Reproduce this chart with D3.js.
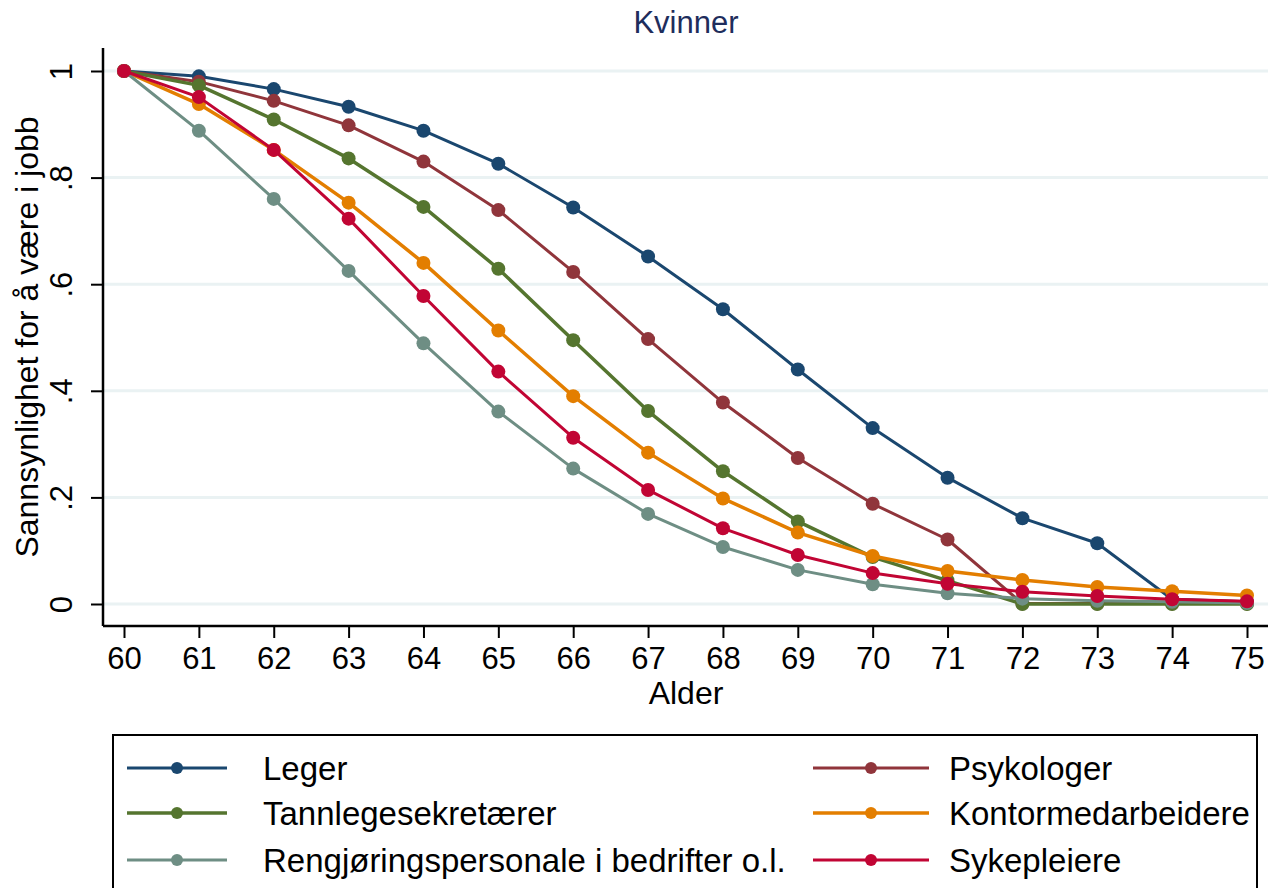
<!DOCTYPE html>
<html>
<head>
<meta charset="utf-8">
<script src="https://cdn.jsdelivr.net/npm/d3@7"></script>
<style>
  body { margin: 0; background: #fff; }
  svg { display: block; font-family: "Liberation Sans", Arial, sans-serif; }
</style>
</head>
<body>
<div id="chart"></div>
<script>
// ages on the x axis
const ages = [60, 61, 62, 63, 64, 65, 66, 67, 68, 69, 70, 71, 72, 73, 74, 75];
const yTicks = [0, 0.2, 0.4, 0.6, 0.8, 1];

// probability of being in work, per occupation
const leger = [1, 0.990, 0.966, 0.933, 0.888, 0.826, 0.744, 0.652, 0.553, 0.440, 0.330, 0.237, 0.161, 0.114, 0.009, 0.004];
const psykologer = [1, 0.980, 0.944, 0.898, 0.830, 0.739, 0.623, 0.497, 0.378, 0.274, 0.188, 0.121, 0.001, 0.001, 0.001, 0.001];
const tannlegesekretaerer = [1, 0.973, 0.909, 0.836, 0.745, 0.629, 0.495, 0.362, 0.249, 0.155, 0.088, 0.044, 0, 0, 0, 0];
const kontormedarbeidere = [1, 0.938, 0.852, 0.753, 0.640, 0.513, 0.390, 0.284, 0.198, 0.134, 0.090, 0.062, 0.045, 0.032, 0.024, 0.016];
const rengjoring = [1, 0.888, 0.760, 0.625, 0.489, 0.361, 0.254, 0.169, 0.107, 0.064, 0.037, 0.020, 0.010, 0.006, 0.004, 0.002];
const sykepleiere = [1, 0.951, 0.852, 0.723, 0.578, 0.436, 0.312, 0.214, 0.142, 0.092, 0.058, 0.038, 0.023, 0.015, 0.009, 0.005];

// legend order (row-wise, like Stata) is also draw order
const series = [
  { name: 'Leger', values: leger, color: '#1a476f', lw: 3 },
  { name: 'Psykologer', values: psykologer, color: '#90353b', lw: 3 },
  { name: 'Tannlegesekretærer', values: tannlegesekretaerer, color: '#55752f', lw: 3.5 },
  { name: 'Kontormedarbeidere', values: kontormedarbeidere, color: '#e37e00', lw: 3.5 },
  { name: 'Rengjøringspersonale i bedrifter o.l.', values: rengjoring, color: '#6e8e84', lw: 3 },
  { name: 'Sykepleiere', values: sykepleiere, color: '#c10534', lw: 3 },
];

const W = 1270, H = 888;
const plot = { left: 103, right: 1268, top: 48, bottom: 626 };

const svg = d3.select('#chart').append('svg')
  .attr('width', W)
  .attr('height', H);

const x = d3.scaleLinear().domain([60, 75]).range([124, 1247]);
const y = d3.scaleLinear().domain([0, 1]).range([604, 71]);

// title
svg.append('text')
  .attr('x', 686).attr('y', 33)
  .attr('text-anchor', 'middle')
  .attr('font-size', 31)
  .attr('fill', '#1e2d5c')
  .text('Kvinner');

// grid
svg.append('g')
  .selectAll('line')
  .data(yTicks)
  .join('line')
  .attr('x1', plot.left).attr('x2', plot.right)
  .attr('y1', d => y(d)).attr('y2', d => y(d))
  .attr('stroke', '#eaf2f3')
  .attr('stroke-width', 3);

// y axis
const fmt = d => (d === 0 ? '0' : d === 1 ? '1' : String(d).replace('0.', '.'));
const yAxis = svg.append('g')
  .attr('transform', `translate(${plot.left},0)`)
  .call(d3.axisLeft(y).tickValues(yTicks).tickFormat(fmt).tickSize(12).tickSizeOuter(0));
yAxis.select('.domain').remove();
yAxis.selectAll('line').attr('stroke', '#000').attr('stroke-width', 2);
yAxis.selectAll('text')
  .attr('x', 0).attr('y', 0).attr('dy', null)
  .attr('transform', 'translate(-42,0) rotate(-90)')
  .attr('text-anchor', 'middle')
  .attr('dominant-baseline', 'central')
  .attr('font-size', 31)
  .attr('fill', '#000');
svg.append('line')
  .attr('x1', plot.left).attr('x2', plot.left)
  .attr('y1', plot.top).attr('y2', plot.bottom)
  .attr('stroke', '#000').attr('stroke-width', 2.5);

// x axis
const xAxis = svg.append('g')
  .attr('transform', `translate(0,${plot.bottom})`)
  .call(d3.axisBottom(x).tickValues(ages).tickFormat(d3.format('d')).tickSize(12).tickPadding(9));
xAxis.select('.domain').remove();
xAxis.selectAll('line').attr('stroke', '#000').attr('stroke-width', 2);
xAxis.selectAll('text').attr('font-size', 31).attr('fill', '#000');
svg.append('line')
  .attr('x1', plot.left).attr('x2', plot.right)
  .attr('y1', plot.bottom).attr('y2', plot.bottom)
  .attr('stroke', '#000').attr('stroke-width', 2.5);

// axis titles
svg.append('text')
  .attr('x', 686).attr('y', 704)
  .attr('text-anchor', 'middle')
  .attr('font-size', 32)
  .text('Alder');
svg.append('text')
  .attr('transform', 'translate(27,337) rotate(-90)')
  .attr('text-anchor', 'middle')
  .attr('dominant-baseline', 'central')
  .attr('font-size', 32)
  .text('Sannsynlighet for å være i jobb');

// series
const line = d3.line()
  .x((d, i) => x(ages[i]))
  .y(d => y(d));

const g = svg.append('g');
series.forEach(s => {
  g.append('path')
    .datum(s.values)
    .attr('d', line)
    .attr('fill', 'none')
    .attr('stroke', s.color)
    .attr('stroke-width', s.lw)
    .attr('stroke-linejoin', 'round');
  g.selectAll(null)
    .data(s.values)
    .join('circle')
    .attr('cx', (d, i) => x(ages[i]))
    .attr('cy', d => y(d))
    .attr('r', 7)
    .attr('fill', s.color);
});

// legend
svg.append('rect')
  .attr('x', 113).attr('y', 735)
  .attr('width', 1144).attr('height', 200)
  .attr('fill', '#fff')
  .attr('stroke', '#000')
  .attr('stroke-width', 2);

const legCols = [{ x1: 127, x2: 227, tx: 263 }, { x1: 813, x2: 929, tx: 949 }];
const legRows = [768, 813, 860];
const leg = svg.append('g')
  .selectAll('g')
  .data(series)
  .join('g')
  .attr('transform', (d, i) => `translate(0,${legRows[Math.floor(i / 2)]})`);
leg.append('line')
  .attr('x1', (d, i) => legCols[i % 2].x1)
  .attr('x2', (d, i) => legCols[i % 2].x2)
  .attr('stroke', d => d.color)
  .attr('stroke-width', d => d.lw);
leg.append('circle')
  .attr('cx', (d, i) => (legCols[i % 2].x1 + legCols[i % 2].x2) / 2)
  .attr('r', 6)
  .attr('fill', d => d.color);
leg.append('text')
  .attr('x', (d, i) => legCols[i % 2].tx)
  .attr('dy', '0.35em')
  .attr('font-size', 33)
  .text(d => d.name);
</script>
</body>
</html>
